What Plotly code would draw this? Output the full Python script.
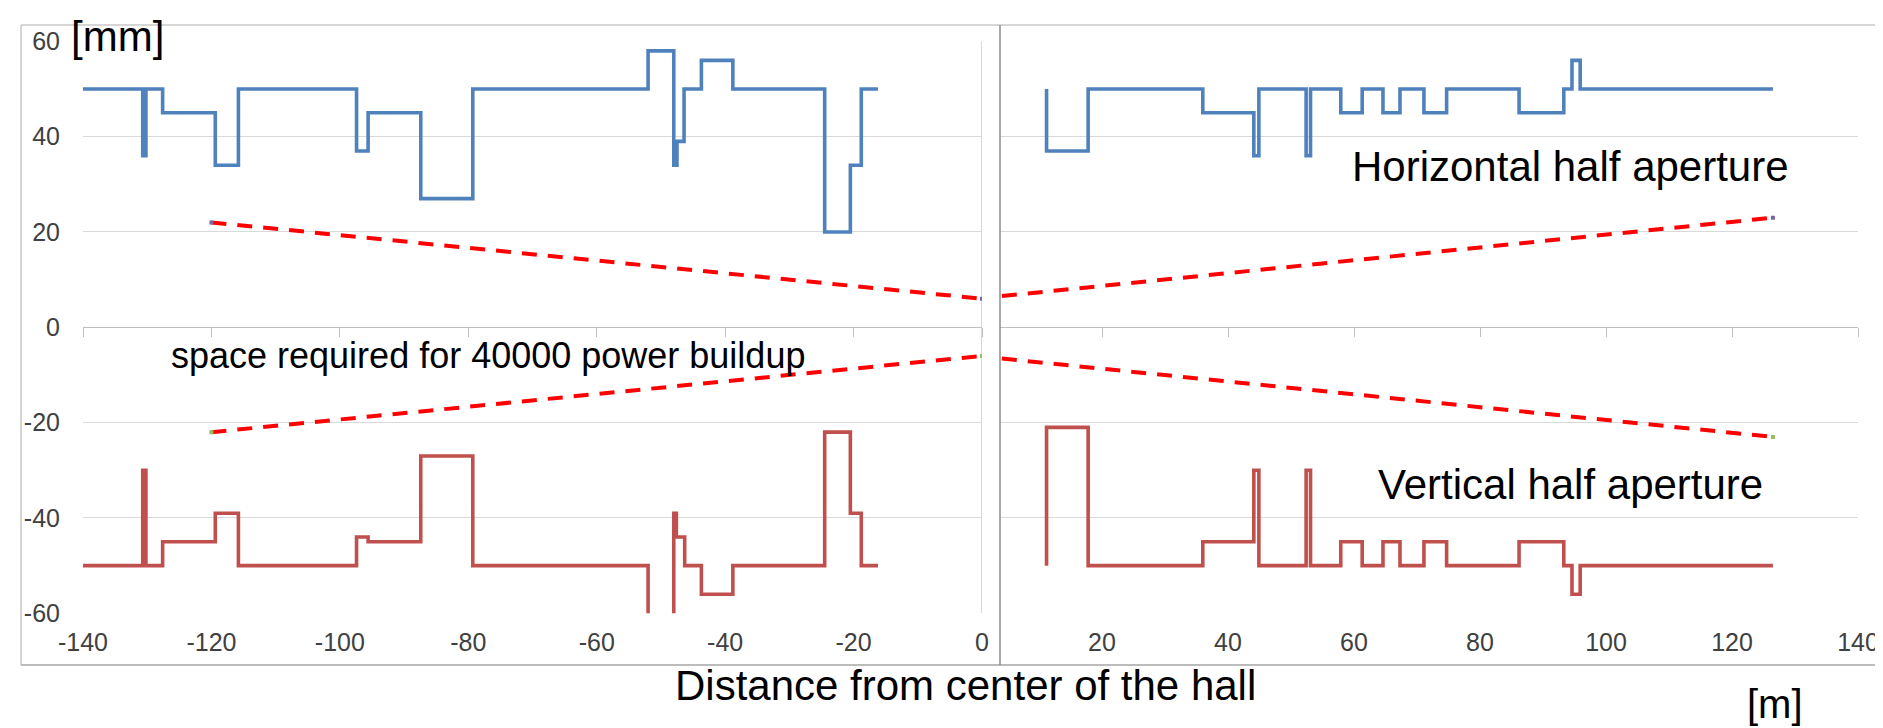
import plotly.graph_objects as go

W, H = 1883, 728

# ---------------- data ----------------
# Left chart (negative side), step outlines: x of each step start, aperture level
left_h_x = [-140, -130.7, -130.2, -127.6, -119.4, -115.8, -97.4, -95.6, -87.4, -79.3,
            -52.0, -48.0, -47.5, -46.4, -43.7, -38.8, -24.5, -20.5, -18.8, -16.2]
left_h_y = [50, 36, 50, 45, 34, 50, 37, 45, 27, 50,
            58, 34, 39, 50, 56, 50, 20, 34, 50, 50]

left_v_x = [-140, -130.7, -130.2, -127.6, -119.4, -115.8, -97.4, -95.6, -87.4, -79.3,
            -52.0, -48.0, -47.6, -46.3, -43.7, -38.8, -24.5, -20.5, -18.8, -16.2]
left_v_y = [-50, -30, -50, -45, -39, -50, -44, -45, -27, -50,
            -70, -39, -44, -50, -56, -50, -22, -39, -50, -50]

# Right chart (positive side)
right_h_x = [11.2, 11.2, 17.8, 36.0, 44.1, 44.9, 52.4, 53.1, 57.9, 61.3,
             64.6, 67.3, 71.1, 74.7, 86.2, 93.3, 94.6, 95.9, 126.5]
right_h_y = [50, 37, 50, 45, 36, 50, 36, 50, 45, 50,
             45, 50, 45, 50, 45, 50, 56, 50, 50]

right_v_x = [11.2, 11.2, 17.8, 36.0, 44.1, 44.9, 52.4, 53.1, 57.9, 61.3,
             64.6, 67.3, 71.1, 74.7, 86.2, 93.3, 94.6, 95.9, 126.5]
right_v_y = [-50, -21, -50, -45, -30, -50, -30, -50, -45, -50,
             -45, -50, -45, -50, -45, -50, -56, -50, -50]

# space required for power buildup (dashed)
left_env_x = [-120, 0]
left_env_up = [22, 6]
left_env_dn = [-22, -6]
right_env_x = [0, 126.5]
right_env_up = [6, 23]
right_env_dn = [-6, -23]

left_xticks = [-140, -120, -100, -80, -60, -40, -20, 0]
left_xlabels = ["-140", "-120", "-100", "-80", "-60", "-40", "-20", "0"]
right_xticks = [20, 40, 60, 80, 100, 120, 140]
right_xlabels = ["20", "40", "60", "80", "100", "120", "140"]
yticks = [-60, -40, -20, 0, 20, 40, 60]
ylabels = ["-60", "-40", "-20", "0", "20", "40", "60"]

# ---------------- layout geometry (pixels) ----------------
def px(x):
    return x / W

def py(y):
    return 1 - y / H

L_X0, L_X1 = 75, 974
R_X0, R_X1 = 992, 1850
Y_TOP, Y_BOT = 33.3, 605.3
y_dom = [py(Y_BOT), py(Y_TOP)]
y_mid = (y_dom[0] + y_dom[1]) / 2

BLUE = "#4F81BD"
RED = "#C0504D"
DASH = "#FF0000"
GRID = "#D9D9D9"
TICKC = "#404040"
FONT = "Liberation Sans, Arial, sans-serif"

fig = go.Figure()

def step(x, y, color, xa, ya):
    fig.add_trace(go.Scatter(x=x, y=y, mode="lines", line=dict(color=color, width=3.6, shape="hv"),
                             xaxis=xa, yaxis=ya, showlegend=False, hoverinfo="skip"))

def env(x, y, xa, ya):
    fig.add_trace(go.Scatter(x=x, y=y, mode="lines", line=dict(color=DASH, width=4, dash="15px,11px"),
                             xaxis=xa, yaxis=ya, showlegend=False, hoverinfo="skip"))

step(left_h_x, left_h_y, BLUE, "x", "y")
step(left_v_x, left_v_y, RED, "x", "y")
step(right_h_x, right_h_y, BLUE, "x2", "y2")
step(right_v_x, right_v_y, RED, "x2", "y2")
env(left_env_x, left_env_up, "x", "y")
env(left_env_x, left_env_dn, "x", "y")
env(right_env_x, right_env_up, "x2", "y2")
env(right_env_x, right_env_dn, "x2", "y2")

# small end markers of the envelope series
fig.add_trace(go.Scatter(x=[left_env_x[0], left_env_x[1]],
                         y=[left_env_up[0], left_env_up[1]],
                         mode="markers", marker=dict(color="#8064A2", size=4, symbol="square"),
                         xaxis="x3", yaxis="y", showlegend=False, hoverinfo="skip"))
fig.add_trace(go.Scatter(x=[left_env_x[0], left_env_x[1]], y=[left_env_dn[0], left_env_dn[1]],
                         mode="markers", marker=dict(color="#9BBB59", size=4, symbol="square"),
                         xaxis="x3", yaxis="y", showlegend=False, hoverinfo="skip"))
fig.add_trace(go.Scatter(x=[right_env_x[1]], y=[right_env_up[1]],
                         mode="markers", marker=dict(color="#8064A2", size=4, symbol="square"),
                         xaxis="x4", yaxis="y2", showlegend=False, hoverinfo="skip"))
fig.add_trace(go.Scatter(x=[right_env_x[1]], y=[right_env_dn[1]],
                         mode="markers", marker=dict(color="#9BBB59", size=4, symbol="square"),
                         xaxis="x4", yaxis="y2", showlegend=False, hoverinfo="skip"))

left_range = [-140, 0]
right_range = [140 - (R_X1 - R_X0) / 6.3, 140]

tickfont = dict(family=FONT, size=25, color=TICKC)

fig.update_layout(
    width=W, height=H,
    margin=dict(l=0, r=0, t=0, b=0),
    paper_bgcolor="white", plot_bgcolor="rgba(0,0,0,0)",
    template="none",
    xaxis=dict(domain=[px(L_X0), px(L_X1)], range=left_range, anchor="y",
               tickvals=left_xticks, ticktext=left_xlabels, tickfont=tickfont,
               showgrid=False, zeroline=False, showline=False, ticks="",
               ticklabelstandoff=12),
    yaxis=dict(domain=y_dom, range=[-60, 60], anchor="x",
               tickvals=yticks, ticktext=ylabels, tickfont=tickfont,
               showgrid=True, gridcolor=GRID, gridwidth=1.2, zeroline=False,
               showline=False, ticks="", ticklabelstandoff=22),
    xaxis2=dict(domain=[px(R_X0), px(R_X1)], range=right_range, anchor="y2",
                tickvals=right_xticks, ticktext=right_xlabels, tickfont=tickfont,
                showgrid=False, zeroline=False, showline=False, ticks="",
                ticklabelstandoff=12),
    yaxis2=dict(domain=y_dom, range=[-60, 60], anchor="x2",
                tickvals=yticks, showticklabels=False,
                showgrid=True, gridcolor=GRID, gridwidth=1.2, zeroline=False,
                showline=False, ticks=""),
    xaxis3=dict(overlaying="x", anchor="free", position=y_mid, range=left_range,
                tickvals=left_xticks, showticklabels=False, ticks="outside", ticklen=9,
                tickcolor="#BFBFBF", tickwidth=1.2, showline=True, linecolor="#BFBFBF",
                linewidth=1.2, showgrid=False, zeroline=False),
    xaxis4=dict(overlaying="x2", anchor="free", position=y_mid, range=right_range,
                tickvals=right_xticks, showticklabels=False, ticks="outside", ticklen=9,
                tickcolor="#BFBFBF", tickwidth=1.2, showline=True, linecolor="#BFBFBF",
                linewidth=1.2, showgrid=False, zeroline=False),
)

shapes = []
# vertical axis line of the left chart at x = 0
shapes.append(dict(type="line", xref="x", yref="y", x0=0, x1=0, y0=-60, y1=60,
                   line=dict(color="#BFBFBF", width=1.2), layer="below"))
# chart-area borders
bc = "#C8C8C8"
shapes.append(dict(type="line", xref="paper", yref="paper", x0=px(13), x1=px(1880), y0=py(17), y1=py(17),
                   line=dict(color=bc, width=1.5)))
shapes.append(dict(type="line", xref="paper", yref="paper", x0=px(13), x1=px(1880), y0=py(657), y1=py(657),
                   line=dict(color="#A6A6A6", width=1.5)))
shapes.append(dict(type="line", xref="paper", yref="paper", x0=px(13), x1=px(13), y0=py(17), y1=py(657),
                   line=dict(color=bc, width=1.5)))
shapes.append(dict(type="line", xref="paper", yref="paper", x0=px(1880), x1=px(1880), y0=py(17), y1=py(657),
                   line=dict(color=bc, width=1.5)))
shapes.append(dict(type="line", xref="paper", yref="paper", x0=px(992), x1=px(992), y0=py(17), y1=py(657),
                   line=dict(color="#8C8C8C", width=1.5)))
fig.update_layout(shapes=shapes)

def ann(text, x, y, size):
    fig.add_annotation(text=text, xref="paper", yref="paper", x=px(x), y=py(y),
                       xanchor="left", yanchor="middle", showarrow=False,
                       font=dict(family=FONT, size=size, color="black"))

ann("[mm]", 61, 29, 42)
ann("Horizontal half aperture", 1342, 158, 42)
ann("Vertical half aperture", 1368, 476, 42)
ann("space required for 40000 power buildup", 161, 347, 36)
ann("Distance from center of the hall", 665, 677, 42)
ann("[m]", 1737, 696, 40)

fig.write_html("out.html")
